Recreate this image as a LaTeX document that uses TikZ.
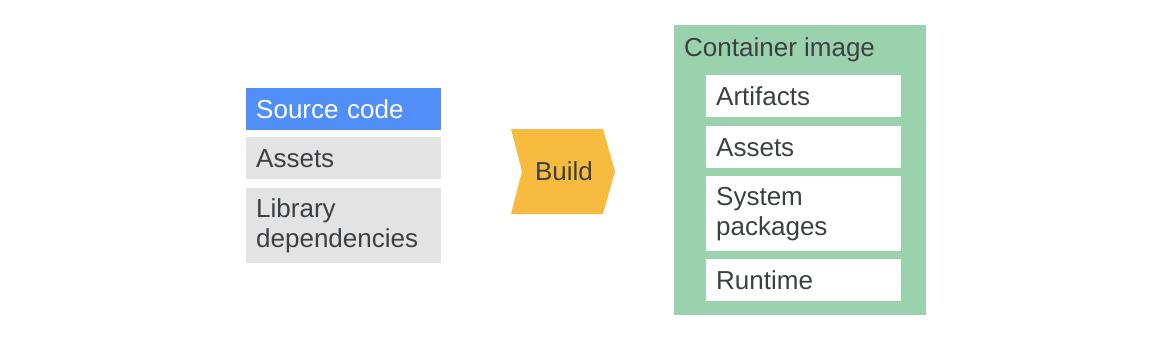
\documentclass[tikz,border=0pt]{standalone}
\usepackage{fontspec}
\setmainfont{Liberation Sans}
\definecolor{txt}{HTML}{3C4043}
\definecolor{srcblue}{HTML}{518EF8}
\definecolor{lgray}{HTML}{E3E3E3}
\definecolor{bldyellow}{HTML}{F7BC3F}
\definecolor{cgreen}{HTML}{9AD2AE}
\tikzset{
  item/.style={anchor=north west, minimum width=195pt, text width=175pt, align=left,
    inner xsep=10pt, inner ysep=0pt, font=\fontsize{26pt}{30pt}\selectfont, text=txt},
  one/.style={item, minimum height=42pt},
  two/.style={item, minimum height=75pt},
}
\begin{document}
\begin{tikzpicture}[x=1pt,y=-1pt]
\useasboundingbox (0,0) rectangle (1167,340);
% left column
\node[one, fill=srcblue, text=white] (src) at (246,88) {Source code};
\node[one, fill=lgray] (assets) at (246,137) {Assets};
\node[two, fill=lgray] (lib) at (246,188) {Library\\dependencies};
% build chevron
\fill[bldyellow] (511,129) -- (603,129) -- (615,171.5) -- (603,214) -- (511,214) -- (522,171.5) -- cycle;
\node[font=\fontsize{26pt}{30pt}\selectfont, text=txt, inner sep=0pt] (build) at (564,171.5) {Build};
% container
\fill[cgreen] (674,25) rectangle (926,315);
\node[anchor=base west, inner sep=0pt, font=\fontsize{26pt}{30pt}\selectfont, text=txt] (ctitle) at (684,56) {Container image};
\node[one, fill=white] (art) at (706,75) {Artifacts};
\node[one, fill=white] (cassets) at (706,126) {Assets};
\node[two, fill=white] (sys) at (706,176) {System\\packages};
\node[one, fill=white] (rt) at (706,259) {Runtime};
\end{tikzpicture}
\end{document}
